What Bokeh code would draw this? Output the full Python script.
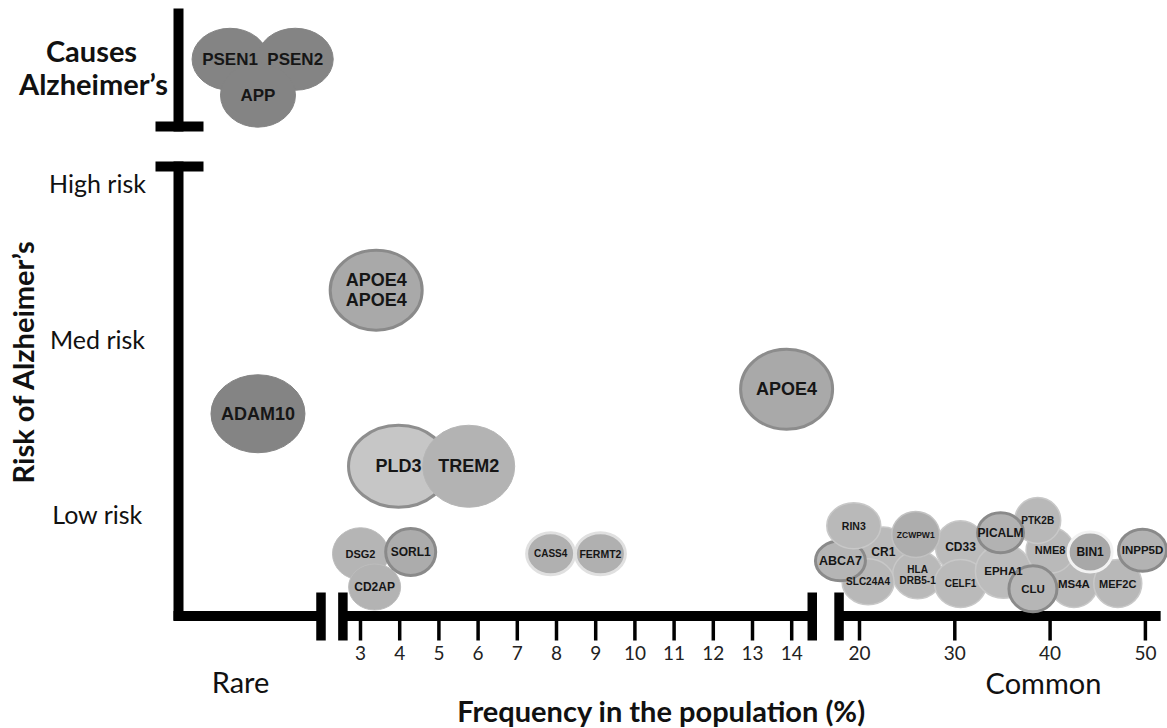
import numpy as np
from bokeh.plotting import figure
from bokeh.models import Range1d, ColumnDataSource
from bokeh.embed import file_html
from bokeh.resources import INLINE
from bokeh.core.properties import value

# ---------------- data ----------------
# rare variants: no numeric frequency scale, position within the "Rare" zone (0..1)
rare_genes = ["PSEN1", "PSEN2", "APP", "ADAM10"]
rare_pos = [0.35, 0.84, 0.56, 0.56]
rare_risk = [3.79, 3.79, 3.56, 1.57]

# genes with a frequency (%) ; drawing order = list order
genes = ["APOE4\nAPOE4", "PLD3", "TREM2", "APOE4",
         "DSG2", "CD2AP", "SORL1", "CASS4", "FERMT2",
         "CR1", "CD33", "HLA\nDRB5-1", "CELF1", "SLC24A4", "ABCA7", "RIN3",
         "ZCWPW1", "EPHA1", "MS4A", "MEF2C", "NME8", "PTK2B", "PICALM",
         "CLU", "BIN1", "INPP5D"]
freq = [3.4, 3.97, 5.76, 13.87,
        3.0, 3.36, 4.28, 7.85, 9.12,
        22.5, 30.6, 26.1, 30.6, 20.9, 18.0, 19.4,
        25.9, 35.1, 42.5, 47.1, 40.0, 38.7, 34.8,
        38.2, 44.2, 49.7]
risk = [2.31, 1.27, 1.27, 1.71,
        0.77, 0.58, 0.78, 0.77, 0.77,
        0.78, 0.81, 0.65, 0.60, 0.61, 0.73, 0.93,
        0.88, 0.67, 0.60, 0.60, 0.79, 0.96, 0.89,
        0.57, 0.78, 0.79]

risk_levels = ["Low risk", "Med risk", "High risk"]
risk_level_vals = [1, 2, 3]
ticks_a = [3, 4, 5, 6, 7, 8, 9, 10, 11, 12, 13, 14]
ticks_b = [20, 30, 40, 50]

# ---------------- scales (broken axes) ----------------
def fx(f):
    f = np.asarray(f, dtype=float)
    return np.where(f <= 15.5, 360 + (f - 3) * 39.2, 859 + (f - 20) * 9.53)

def ux(u):
    return 183 + np.asarray(u, dtype=float) * 133

def ry(r):
    r = np.asarray(r, dtype=float)
    return np.where(r <= 2, 513 - (r - 1) * 175, 338 - (r - 2) * 156)

# ---------------- styles ----------------
DARK = "#848484"
rare_w = [76, 76, 75, 94]
rare_h = [62, 62, 64, 78]
rare_fs = ["17px", "17px", "17px", "18px"]

bw = [92, 100, 92, 92,
      56, 52, 50, 48, 50,
      50, 50, 50, 52, 52, 50, 54,
      48, 56, 48, 48, 48, 46, 46,
      48, 44, 48]
bh = [80, 82, 82, 80,
      52, 46, 47, 42, 42,
      50, 52, 48, 48, 46, 40, 46,
      46, 54, 48, 48, 46, 46, 40,
      46, 40, 42]
fill = ["#a9a9a9", "#c6c6c6", "#b3b3b3", "#a9a9a9",
        "#b5b5b5", "#b3b3b3", "#acacac", "#b0b0b0", "#b0b0b0",
        "#bababa", "#bbbbbb", "#b9b9b9", "#bababa", "#b8b8b8", "#b5b5b5", "#b9b9b9",
        "#adadad", "#bcbcbc", "#b9b9b9", "#b8b8b8", "#b9b9b9", "#b8b8b8", "#b2b2b2",
        "#b6b6b6", "#a8a8a8", "#b3b3b3"]
lcol = ["#8a8a8a", "#8e8e8e", "#b6b6b6", "#8c8c8c",
        "#bdbdbd", "#bdbdbd", "#8a8a8a", "#e0e0e0", "#e0e0e0",
        "#c8c8c8", "#c8c8c8", "#c8c8c8", "#c8c8c8", "#c8c8c8", "#8a8a8a", "#c8c8c8",
        "#c2c2c2", "#c8c8c8", "#c8c8c8", "#c8c8c8", "#c8c8c8", "#c8c8c8", "#8a8a8a",
        "#8a8a8a", "#f2f2f2", "#8a8a8a"]
lw = [3, 3, 1, 3,
      1, 1, 3, 3, 3,
      1.5, 1.5, 1.5, 1.5, 1.5, 3, 1.5,
      1.5, 1.5, 1.5, 1.5, 1.5, 1.5, 3,
      3, 3, 3]
fs = ["18px", "18px", "18px", "18px",
      "11px", "12px", "12px", "10px", "10.5px",
      "12px", "12px", "10px", "10px", "10px", "12.5px", "10.5px",
      "8.5px", "11.5px", "11.5px", "11px", "11px", "10px", "12px",
      "11.5px", "12px", "11.5px"]

W, H = 1167, 728
p = figure(width=W, height=H, x_range=Range1d(0, W), y_range=Range1d(H, 0),
           output_backend="svg", toolbar_location=None,
           x_axis_location=None, y_axis_location=None, min_border=0)
p.grid.visible = False
p.outline_line_color = None
p.background_fill_color = "white"
p.border_fill_color = "white"

# ---------------- axes (broken) ----------------
AX = "#000000"
# y axis: "causes" part and risk part
p.segment(x0=[178, 155, 155, 178], y0=[8, 126, 166, 161],
          x1=[178, 203, 203, 178], y1=[131, 126, 166, 620],
          line_width=10, line_color=AX, line_cap="butt")
# x axis pieces
xa0 = [173, float(fx(2.5)), float(fx(17.75))]
xa1 = [320, float(fx(14.55)), float(fx(51.6))]
p.segment(x0=xa0, y0=[615.5] * 3, x1=xa1, y1=[615.5] * 3,
          line_width=10, line_color=AX, line_cap="butt")
# break bars
brk = [320.5, float(fx(2.5)) + 2, float(fx(14.55)) - 1, float(fx(17.75)) + 1]
p.segment(x0=brk, y0=[592] * 4, x1=brk, y1=[640] * 4,
          line_width=9.5, line_color=AX, line_cap="butt")
# ticks
tk = list(ticks_a) + list(ticks_b)
tx = fx(tk)
p.segment(x0=tx, y0=[620] * len(tk), x1=tx, y1=[640] * len(tk),
          line_width=3.5, line_color=AX, line_cap="butt")
p.text(x=tx, y=[652] * len(tk), text=[str(t) for t in tk],
       text_font=value("Lato"), text_font_size="19px", text_color="#222222",
       text_align="center", text_baseline="middle")

# ---------------- bubbles ----------------
rsrc = ColumnDataSource(dict(x=ux(rare_pos), y=ry(rare_risk), w=rare_w, h=rare_h,
                             t=rare_genes, fs=rare_fs))
p.ellipse(x="x", y="y", width="w", height="h", width_units="screen", height_units="screen",
          source=rsrc, fill_color=DARK, line_color=DARK, line_width=1)

src = ColumnDataSource(dict(x=fx(freq), y=ry(risk), w=bw, h=bh, t=genes,
                            fill=fill, lc=lcol, lw=lw, fs=fs))
p.ellipse(x="x", y="y", width="w", height="h", width_units="screen", height_units="screen",
          source=src, fill_color="fill", line_color="lc", line_width="lw")

for s in (rsrc, src):
    p.text(x="x", y="y", text="t", source=s,
           text_font=value("Liberation Sans"), text_font_style="bold",
           text_font_size="fs", text_color="#161616",
           text_align="center", text_baseline="middle", text_line_height=1.0)

# ---------------- texts ----------------
p.text(x=[97] * 3, y=ry(risk_level_vals), text=risk_levels,
       text_font=value("Lato"), text_font_size="25px", text_color="#111111",
       text_align="center", text_baseline="middle")
p.text(x=[91, 93], y=[50, 83], text=["Causes", "Alzheimer\u2019s"],
       text_font=value("Lato"), text_font_style="bold", text_font_size="29px",
       text_color="#111111", text_align="center", text_baseline="middle")
p.text(x=[22], y=[361], text=["Risk of Alzheimer\u2019s"], angle=np.pi / 2,
       text_font=value("Lato"), text_font_style="bold", text_font_size="29px",
       text_color="#111111", text_align="center", text_baseline="middle")
p.text(x=[240, 1043], y=[681, 682], text=["Rare", "Common"],
       text_font=value("Lato"), text_font_size="29px", text_color="#111111",
       text_align="center", text_baseline="middle")
p.text(x=[661], y=[710], text=["Frequency in the population (%)"],
       text_font=value("Lato"), text_font_style="bold", text_font_size="29px",
       text_color="#111111", text_align="center", text_baseline="middle")

open("out.html", "w").write(file_html(p, INLINE))
